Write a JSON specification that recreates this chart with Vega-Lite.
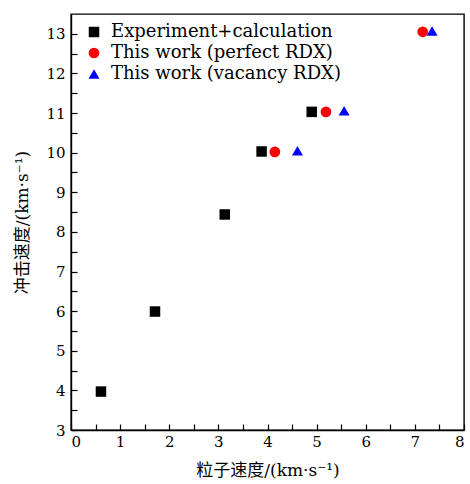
{
  "$schema": "https://vega.github.io/schema/vega-lite/v6.json",
  "width": 393,
  "height": 416,
  "autosize": "none",
  "padding": {"left": 71, "top": 14, "right": 6, "bottom": 54},
  "background": "white",
  "config": {
    "view": {"stroke": "black", "strokeWidth": 1.4},
    "font": "DejaVu Serif, Noto Sans CJK SC",
    "axis": {
      "grid": false,
      "domainColor": "black",
      "domainWidth": 1.4,
      "tickColor": "black",
      "tickWidth": 1.2,
      "labelColor": "black",
      "labelFont": "DejaVu Serif",
      "labelFontSize": 15,
      "titleFont": "DejaVu Serif, Noto Sans CJK SC",
      "titleFontSize": 17,
      "titleFontWeight": "normal",
      "titleColor": "black"
    }
  },
  "data": {
    "values": [
      {"u": 0.61, "D": 3.97, "series": "Experiment+calculation"},
      {"u": 1.71, "D": 5.99, "series": "Experiment+calculation"},
      {"u": 3.13, "D": 8.44, "series": "Experiment+calculation"},
      {"u": 3.88, "D": 10.03, "series": "Experiment+calculation"},
      {"u": 4.9, "D": 11.03, "series": "Experiment+calculation"},
      {"u": 4.15, "D": 10.02, "series": "This work (perfect RDX)"},
      {"u": 5.19, "D": 11.03, "series": "This work (perfect RDX)"},
      {"u": 7.16, "D": 13.05, "series": "This work (perfect RDX)"},
      {"u": 4.61, "D": 10.05, "series": "This work (vacancy RDX)"},
      {"u": 5.56, "D": 11.06, "series": "This work (vacancy RDX)"},
      {"u": 7.35, "D": 13.07, "series": "This work (vacancy RDX)"}
    ]
  },
  "mark": {"type": "point", "filled": true, "opacity": 1},
  "encoding": {
    "x": {
      "field": "u",
      "type": "quantitative",
      "scale": {"domain": [0, 8], "nice": false, "zero": false},
      "axis": {
        "title": "粒子速度/(km·s⁻¹)",
        "values": [0, 0.5, 1, 1.5, 2, 2.5, 3, 3.5, 4, 4.5, 5, 5.5, 6, 6.5, 7, 7.5, 8],
        "labelExpr": "datum.value % 1 === 0 ? format(datum.value, 'd') : ''",
        "tickSize": -6,
        "labelPadding": 10,
        "titlePadding": 13
      }
    },
    "y": {
      "field": "D",
      "type": "quantitative",
      "scale": {"domain": [3, 13.5], "nice": false, "zero": false},
      "axis": {
        "title": "冲击速度/(km·s⁻¹)",
        "values": [3, 3.5, 4, 4.5, 5, 5.5, 6, 6.5, 7, 7.5, 8, 8.5, 9, 9.5, 10, 10.5, 11, 11.5, 12, 12.5, 13],
        "labelExpr": "datum.value % 1 === 0 ? format(datum.value, 'd') : ''",
        "tickSize": -6,
        "labelPadding": 12,
        "titlePadding": 14
      }
    },
    "size": {
      "field": "series",
      "type": "nominal",
      "scale": {
        "domain": ["Experiment+calculation", "This work (perfect RDX)", "This work (vacancy RDX)"],
        "range": [110, 120, 160]
      },
      "legend": null
    },
    "color": {
      "field": "series",
      "type": "nominal",
      "scale": {
        "domain": ["Experiment+calculation", "This work (perfect RDX)", "This work (vacancy RDX)"],
        "range": ["#000000", "#ff0000", "#0000ff"]
      },
      "legend": {
        "title": null,
        "orient": "none",
        "legendX": 14,
        "legendY": 9,
        "labelFont": "DejaVu Serif",
        "labelFontSize": 18,
        "labelColor": "black",
        "labelLimit": 0,
        "symbolSize": 120,
        "rowPadding": 3,
        "labelOffset": 8
      }
    },
    "shape": {
      "field": "series",
      "type": "nominal",
      "scale": {
        "domain": ["Experiment+calculation", "This work (perfect RDX)", "This work (vacancy RDX)"],
        "range": ["square", "circle", "triangle-up"]
      }
    }
  }
}
